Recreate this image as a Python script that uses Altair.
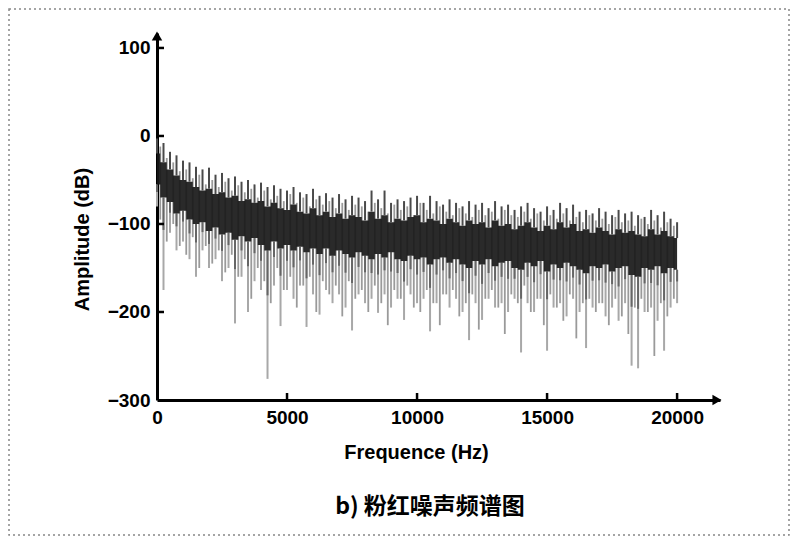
import altair as alt
import pandas as pd

# frequency bins (Hz), 250 Hz apart, and an interleaved set 125 Hz later
freq = [250 * i for i in range(81)]
freq2 = [125 + 250 * i for i in range(80)]

# upper tips of the spectrum (dB)
top = [-3, -8, -18, -22, -28, -30, -35, -38, -36, -44,
       -42, -48, -46, -52, -50, -55, -53, -58, -56, -60,
       -62, -58, -64, -66, -60, -68, -65, -70, -66, -72,
       -68, -70, -74, -62, -72, -62, -76, -72, -74, -70,
       -68, -76, -68, -74, -78, -72, -76, -80, -74, -78,
       -76, -82, -74, -80, -78, -84, -80, -76, -82, -86,
       -80, -84, -76, -82, -78, -86, -84, -88, -82, -86,
       -90, -84, -88, -86, -90, -92, -84, -90, -86, -94, -98]

# upper edge of the dense dark core (dB)
hi = [-20, -30, -38, -45, -50, -52, -58, -62, -60, -66,
      -64, -70, -68, -74, -72, -76, -74, -80, -76, -82,
      -84, -78, -86, -88, -82, -90, -86, -92, -88, -94,
      -90, -92, -96, -86, -94, -90, -98, -94, -96, -92,
      -90, -98, -94, -96, -100, -94, -98, -102, -96, -100,
      -98, -104, -96, -102, -100, -106, -102, -98, -104, -108,
      -102, -106, -98, -104, -100, -108, -106, -110, -104, -108,
      -112, -106, -110, -108, -112, -114, -106, -112, -108, -114, -116]

# lower edge of the dense dark core (dB)
lo = [-55, -70, -75, -88, -85, -95, -100, -98, -108, -104,
      -112, -110, -118, -114, -120, -116, -124, -130, -120, -128,
      -124, -130, -126, -132, -128, -134, -128, -136, -130, -134,
      -138, -132, -136, -140, -134, -138, -132, -140, -142, -136,
      -140, -138, -146, -140, -138, -144, -140, -146, -150, -142,
      -146, -140, -148, -144, -142, -150, -152, -144, -148, -142,
      -154, -146, -150, -144, -148, -152, -156, -148, -150, -146,
      -154, -150, -148, -158, -160, -150, -152, -148, -156, -150, -152]

# deepest downward spikes (dB)
bottom = [-80, -175, -110, -130, -120, -140, -160, -130, -150, -140,
          -165, -150, -213, -160, -200, -165, -175, -276, -170, -216,
          -175, -185, -170, -217, -180, -203, -175, -190, -180, -195,
          -221, -180, -190, -185, -201, -180, -195, -185, -209, -180,
          -190, -185, -222, -190, -180, -195, -185, -200, -232, -190,
          -209, -185, -195, -190, -200, -185, -246, -190, -200, -185,
          -244, -195, -190, -205, -185, -200, -241, -195, -190, -205,
          -195, -210, -190, -261, -264, -200, -195, -210, -244, -195, -190]

# interleaved bins: tips and dips (dB)
top2 = [-12, -25, -30, -40, -38, -48, -44, -55, -50, -58,
        -52, -62, -56, -64, -60, -70, -62, -72, -68, -74,
        -66, -76, -70, -80, -72, -78, -74, -82, -76, -84,
        -78, -80, -86, -76, -82, -88, -78, -84, -80, -90,
        -76, -84, -88, -80, -86, -90, -82, -88, -92, -84,
        -90, -86, -94, -84, -90, -92, -86, -94, -88, -96,
        -90, -94, -88, -96, -92, -98, -90, -96, -94, -100,
        -92, -98, -96, -102, -94, -100, -96, -104, -98, -102]
bottom2 = [-95, -120, -100, -125, -135, -115, -150, -125, -145, -130,
           -155, -135, -160, -140, -185, -150, -165, -190, -150, -175,
           -160, -195, -170, -160, -200, -165, -180, -170, -205, -165,
           -185, -175, -200, -170, -190, -215, -175, -185, -170, -195,
           -200, -175, -190, -215, -180, -175, -205, -190, -180, -220,
           -185, -175, -195, -225, -180, -190, -170, -200, -185, -215,
           -180, -195, -210, -180, -230, -190, -185, -200, -190, -215,
           -185, -205, -225, -195, -185, -200, -250, -190, -205, -185]

x_ticks = [0, 5000, 10000, 15000, 20000]
y_ticks = [-300, -200, -100, 0, 100]
x_max = 21650
y_max = 117
caption = "b) 粉红噪声频谱图"

df = pd.DataFrame({"f": freq, "top": top, "hi": hi, "lo": lo, "bottom": bottom})
df2 = pd.DataFrame({"f": freq2, "top": top2, "bottom": bottom2})

FONT = "Liberation Sans"
xs = alt.Scale(domain=[0, x_max], nice=False, zero=False)
ys = alt.Scale(domain=[-300, y_max], nice=False, zero=False)

x_axis = alt.Axis(values=x_ticks, title="Frequence (Hz)", format="d", tickSize=0,
                  labelPadding=8, labelFlush=False, domainColor="black", domainWidth=3, grid=False,
                  labelFont=FONT, labelFontSize=19, labelFontWeight="bold", labelColor="black",
                  titleFont=FONT, titleFontSize=20, titleFontWeight="bold", titleColor="black",
                  titleX=259, titleY=52, titleBaseline="middle", titleAlign="center")
y_axis = alt.Axis(values=y_ticks, title="Amplitude (dB)", format="d", tickSize=0,
                  labelPadding=7, labelFlush=False, domainColor="black", domainWidth=3, grid=False,
                  labelFont=FONT, labelFontSize=19, labelFontWeight="bold", labelColor="black",
                  titleFont=FONT, titleFontSize=20, titleFontWeight="bold", titleColor="black",
                  titleX=-75, titleY=206, titleBaseline="middle", titleAlign="center", titleAngle=-90)

X = lambda field: alt.X(field, scale=xs, axis=x_axis)
Y = lambda field: alt.Y(field, scale=ys, axis=y_axis)

base = alt.Chart(df).transform_calculate(mid="datum.lo + (datum.bottom - datum.lo) * 0.35")
base2 = alt.Chart(df2)

inter = base2.mark_rule(color="#9a9a9a", strokeWidth=1.8).encode(
    x=X("f:Q"), y=Y("bottom:Q"), y2="top:Q")
lower = base.mark_rule(color="#a8a8a8", strokeWidth=2).encode(
    x=X("f:Q"), y=Y("bottom:Q"), y2="lo:Q")
lower_mid = base.mark_rule(color="#666666", strokeWidth=2).encode(
    x=X("f:Q"), y=Y("mid:Q"), y2="lo:Q")
upper = base.mark_rule(color="#4a4a4a", strokeWidth=2).encode(
    x=X("f:Q"), y=Y("top:Q"), y2="hi:Q")
core = base.mark_area(color="#181818", opacity=0.92, interpolate="step").encode(
    x=X("f:Q"), y=Y("hi:Q"), y2="lo:Q")

ytick_df = pd.DataFrame({"v": y_ticks[1:]})
ytick_marks = alt.Chart(ytick_df).mark_rule(color="black", strokeWidth=2.5).encode(
    y=Y("v:Q"), x=alt.value(0), x2=alt.value(7))
xtick_df = pd.DataFrame({"v": x_ticks[1:]})
xtick_marks = alt.Chart(xtick_df).mark_rule(color="black", strokeWidth=2.5).encode(
    x=X("v:Q"), y=alt.value(367), y2=alt.value(360))

up_arrow = alt.Chart(pd.DataFrame({"x": [0], "y": [y_max]})).mark_point(
    shape="triangle-up", filled=True, size=110, color="black", opacity=1, yOffset=3).encode(
    x=X("x:Q"), y=Y("y:Q"))
right_arrow = alt.Chart(pd.DataFrame({"x": [x_max], "y": [-300]})).mark_point(
    shape="triangle-right", filled=True, size=110, color="black", opacity=1, xOffset=-3).encode(
    x=X("x:Q"), y=Y("y:Q"))

cap = alt.Chart(pd.DataFrame({"t": [caption]})).mark_text(
    font="Noto Sans CJK SC", fontSize=23, fontWeight="bold", color="black",
    align="center", baseline="middle").encode(
    text="t:N", x=alt.value(273), y=alt.value(474))

border = alt.Chart(pd.DataFrame({"a": [0]})).mark_rect(
    fill="transparent", stroke="#888888", strokeDash=[2, 3], strokeWidth=1.5).encode(
    x=alt.value(-148), x2=alt.value(632), y=alt.value(-24), y2=alt.value(502))

chart = alt.layer(inter, lower, lower_mid, core, upper, ytick_marks, xtick_marks,
                  up_arrow, right_arrow, cap, border).properties(
    width=563, height=367,
    autosize=alt.AutoSizeParams(type="none"),
    padding={"left": 149, "top": 25, "right": 72, "bottom": 138},
).configure_view(strokeWidth=0)

chart.save("out.html", embed_options={"renderer": "svg", "actions": False})
